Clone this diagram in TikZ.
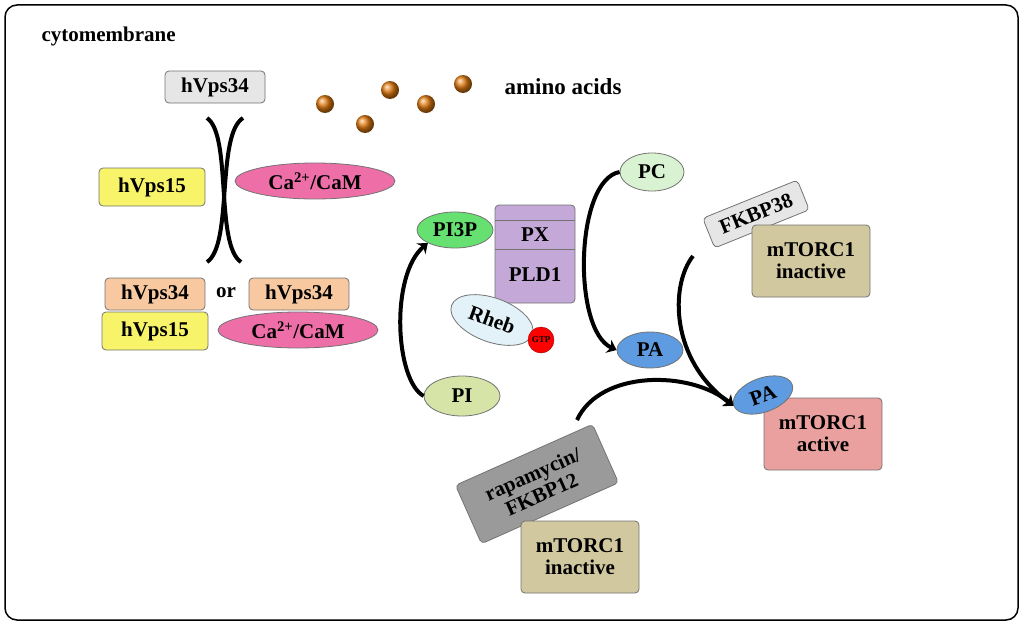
\documentclass[tikz,border=0pt]{standalone}
\usepackage{fontspec}
\setmainfont{Liberation Serif}
\usetikzlibrary{shapes.geometric, arrows.meta, positioning}
\definecolor{grayb}{HTML}{E6E6E6}
\definecolor{yell}{HTML}{F7F46A}
\definecolor{peach}{HTML}{F8C9A0}
\definecolor{pinkc}{HTML}{EE6FA8}
\definecolor{greenp}{HTML}{66E070}
\definecolor{purp}{HTML}{C3A8D8}
\definecolor{rhebc}{HTML}{E2F2F8}
\definecolor{pic}{HTML}{D7E4A8}
\definecolor{pcc}{HTML}{D8F2D2}
\definecolor{pac}{HTML}{5E9BE0}
\definecolor{tan}{HTML}{D2C8A0}
\definecolor{rosec}{HTML}{E9A09E}
\definecolor{rapc}{HTML}{9A9A9A}
\definecolor{ballc}{HTML}{E07A10}
\tikzset{
    box/.style={rectangle, rounded corners=4pt, draw=black!55, line width=0.8pt, text centered, font=\fontsize{21}{22}\selectfont\bfseries, inner sep=0pt},
    oval/.style={ellipse, draw=black!55, line width=0.8pt, text centered, font=\fontsize{21}{22}\selectfont\bfseries, inner sep=0pt},
    arrow/.style={line width=4pt, -{Stealth[length=9pt,width=14pt]}},
    bar/.style={line width=4pt}
}
\begin{document}
\begin{tikzpicture}[x=1pt, y=-1pt]
    \useasboundingbox (0,0) rectangle (1024,626);
    \draw[line width=1.5pt, rounded corners=12pt] (5,5) rectangle (1018,620);
    \node (membrane) [anchor=west, font=\fontsize{21}{22}\selectfont\bfseries] at (38,36) {cytomembrane};

    % hVps34 and partners
    \node (vps34) [box, fill=grayb, minimum width=100pt, minimum height=32pt] at (215,87) {hVps34};
    \node (vps15) [box, fill=yell, minimum width=106pt, minimum height=38pt] at (152,187) {hVps15};
    \node (cam) [oval, fill=pinkc, minimum width=160pt, minimum height=36pt] at (315,181) {Ca\textsuperscript{2+}/CaM};

    % amino acids
    \foreach \px/\py [count=\i] in {325/104, 365/124, 390/90, 426/104, 463/84}
        \shade[ball color=ballc] (\px,\py) circle (9pt);
    \node (amino) [font=\fontsize{23}{24}\selectfont\bfseries] at (563,87) {amino acids};

    % complexes
    \coordinate (xtl) at (207,118);
    \coordinate (xtr) at (243,118);
    \coordinate (xbl) at (207,262);
    \coordinate (xbr) at (241,262);
    \draw[bar] (xtl) .. controls (232,135) and (215,245) .. (xbr);
    \draw[bar] (xtr) .. controls (216,135) and (233,245) .. (xbl);

    \node (vps34a) [box, fill=peach, minimum width=100pt, minimum height=32pt] at (155,294) {hVps34};
    \node (vps15a) [box, fill=yell, minimum width=106pt, minimum height=38pt] at (155,331) {hVps15};
    \node (or) [font=\fontsize{21}{22}\selectfont\bfseries] at (226,293) {or};
    \node (vps34b) [box, fill=peach, minimum width=100pt, minimum height=32pt] at (299,294) {hVps34};
    \node (camb) [oval, fill=pinkc, minimum width=160pt, minimum height=36pt] at (298,330) {Ca\textsuperscript{2+}/CaM};

    % PLD1 complex
    \node (pldone) [box, fill=purp, minimum width=80pt, minimum height=98pt] at (535,254) {};
    \draw[black!55, line width=0.8pt] (495,220) -- (575,220) (495,249) -- (575,249);
    \node (px) [font=\fontsize{21}{22}\selectfont\bfseries] at (535,235) {PX};
    \node (pld) [font=\fontsize{21}{22}\selectfont\bfseries] at (535,275) {PLD1};
    \node (pithreep) [oval, fill=greenp, minimum width=76pt, minimum height=36pt] at (455,230) {PI3P};
    \node (rheb) [oval, fill=rhebc, minimum width=86pt, minimum height=44pt, rotate=-20] at (492,320) {Rheb};
    \node (gtp) [circle, fill=red, draw=red!60!black, minimum size=26pt, inner sep=0pt, font=\fontsize{9}{10}\selectfont\bfseries] at (541,340) {GTP};
    \node (pi) [oval, fill=pic, minimum width=76pt, minimum height=40pt] at (462,396) {PI};
    \draw[arrow] (pi.west) .. controls (395,380) and (390,275) .. (pithreep.south west);

    % PC to PA
    \node (pc) [oval, fill=pcc, minimum width=64pt, minimum height=38pt] at (652,172) {PC};
    \node (pa) [oval, fill=pac, minimum width=66pt, minimum height=36pt] at (650,350) {PA};
    \draw[arrow] (pc.west) .. controls (575,180) and (572,330) .. (pa.west);

    % mTORC1
    \node (fkbp) [box, fill=grayb, minimum width=102pt, minimum height=32pt, rotate=22] at (756,214) {FKBP38};
    \node (inactive) [box, fill=tan, minimum width=118pt, minimum height=72pt, align=center] at (811,261) {mTORC1\\inactive};
    \node (active) [box, fill=rosec, minimum width=118pt, minimum height=72pt, align=center] at (823,434) {mTORC1\\active};
    \node (pab) [oval, fill=pac, minimum width=62pt, minimum height=34pt, rotate=20] at (763,395) {PA};
    \coordinate (fkstart) at (693,256);
    \draw[arrow] (fkstart) .. controls (670,285) and (670,360) .. (pab.west);

    % rapamycin
    \node (rapa) [box, fill=rapc, minimum width=150pt, minimum height=64pt, align=center, rotate=24] at (537,484) {rapamycin/\\FKBP12};
    \node (inactiveb) [box, fill=tan, minimum width=118pt, minimum height=72pt, align=center] at (580,557) {mTORC1\\inactive};
    \coordinate (rapstart) at (577,420);
    \draw[arrow] (rapstart) .. controls (600,370) and (690,370) .. (pab.west);
\end{tikzpicture}
\end{document}
